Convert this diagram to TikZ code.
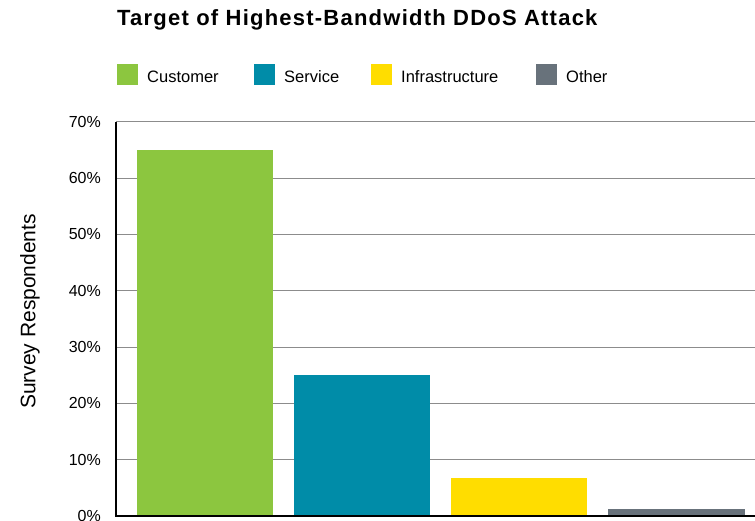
\documentclass[tikz,border=0pt]{standalone}
\usepackage{fontspec}
\setmainfont{Liberation Sans}
\usepackage{xcolor}
\definecolor{custgreen}{HTML}{8CC63F}
\definecolor{servblue}{HTML}{008CA8}
\definecolor{infrayellow}{HTML}{FFDD00}
\definecolor{othergray}{HTML}{68727B}
\definecolor{gridgray}{HTML}{8C8C8C}

\begin{document}
\begin{tikzpicture}[x=1pt, y=1pt,
  gridline/.style={gridgray, line width=1pt},
  ticklabel/.style={anchor=base east, inner sep=0pt, yshift=-5.5pt, font=\fontsize{16}{16}\selectfont},
  legendtext/.style={anchor=base west, inner sep=0pt, font=\fontsize{16.5}{16.5}\selectfont}]
  \useasboundingbox (0,0) rectangle (755,521);
  \node[anchor=base west, inner sep=0pt, font=\fontsize{22}{22}\selectfont\bfseries\addfontfeature{LetterSpace=5.6}] (title) at (117,495) {Target of Highest-Bandwidth DDoS Attack};

  % legend
  \fill[custgreen] (117,436) rectangle (138,457);
  \node[legendtext] (lcust) at (147,438) {Customer};
  \fill[servblue] (254,436) rectangle (275,457);
  \node[legendtext] (lserv) at (284,438) {Service};
  \fill[infrayellow] (371,436) rectangle (392,457);
  \node[legendtext] (linfra) at (401,438) {Infrastructure};
  \fill[othergray] (536,436) rectangle (557,457);
  \node[legendtext] (lother) at (566,438) {Other};

  \begin{scope}[yshift=5pt, y=5.63pt]
    \draw[gridline] (116,10) -- (755,10);
    \draw[gridline] (116,20) -- (755,20);
    \draw[gridline] (116,30) -- (755,30);
    \draw[gridline] (116,40) -- (755,40);
    \draw[gridline] (116,50) -- (755,50);
    \draw[gridline] (116,60) -- (755,60);
    \draw[gridline] (116,70) -- (755,70);
    % bars
    \fill[custgreen] (137,0) rectangle (273,65);
    \fill[servblue] (294,0) rectangle (430,25);
    \fill[infrayellow] (451,0) rectangle (587,6.8);
    \fill[othergray] (608,0) rectangle (745,1.2);
    \draw[line width=1.6pt] (116,70) -- (116,0) -- (755,0);
    \node[ticklabel] (t0) at (101,0) {0\%};
    \node[ticklabel] (t10) at (101,10) {10\%};
    \node[ticklabel] (t20) at (101,20) {20\%};
    \node[ticklabel] (t30) at (101,30) {30\%};
    \node[ticklabel] (t40) at (101,40) {40\%};
    \node[ticklabel] (t50) at (101,50) {50\%};
    \node[ticklabel] (t60) at (101,60) {60\%};
    \node[ticklabel] (t70) at (101,70) {70\%};
  \end{scope}
  \node[rotate=90, font=\fontsize{21}{21}\selectfont] (ytitle) at (30,209.5) {Survey Respondents};
\end{tikzpicture}
\end{document}
